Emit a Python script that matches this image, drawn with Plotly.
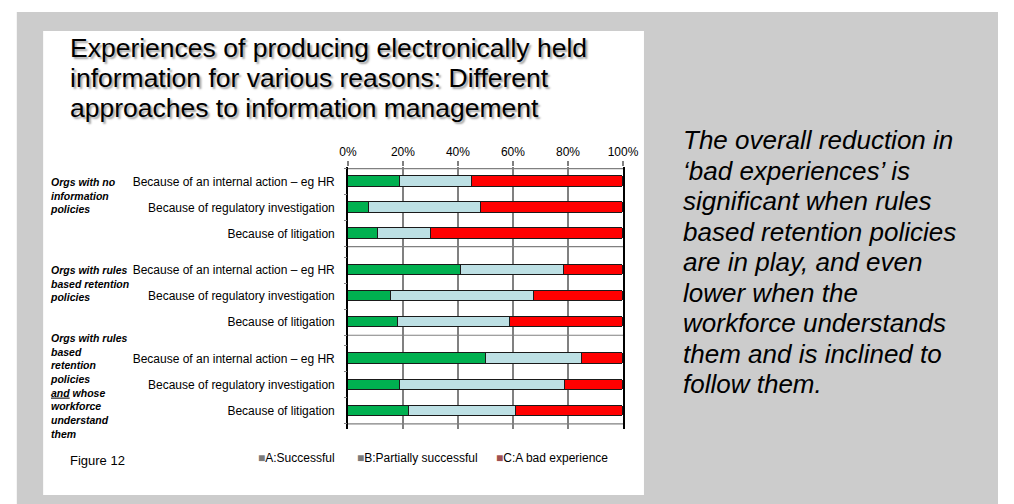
import plotly.graph_objects as go

# ---------------- data ----------------
group_labels = [
    "Orgs with no<br>information<br>policies",
    "Orgs with rules<br>based retention<br>policies",
    "Orgs with rules<br>based<br>retention<br>policies<br><u>and</u> whose<br>workforce<br>understand<br>them",
]
reasons = [
    "Because of an internal action – eg HR",
    "Because of regulatory investigation",
    "Because of litigation",
]
series_names = ["A:Successful", "B:Partially successful", "C:A bad experience"]
successful = [19, 7.5, 11, 41, 15.5, 18, 50, 19, 22]
partially = [26, 41, 19, 37.5, 52, 41, 35, 60, 39]
bad = [55, 51.5, 70, 21.5, 32.5, 41, 15, 21, 39]
x_tick_vals = [0, 20, 40, 60, 80, 100]
x_tick_text = ["0%", "20%", "40%", "60%", "80%", "100%"]
title_lines = [
    "Experiences of producing electronically held",
    "information for various reasons: Different",
    "approaches to information management",
]
side_text = [
    "The overall reduction in",
    "‘bad experiences’ is",
    "significant when rules",
    "based retention policies",
    "are in play, and even",
    "lower when the",
    "workforce understands",
    "them and is inclined to",
    "follow them.",
]
figure_label = "Figure 12"

# ---------------- layout helpers ----------------
W, H = 1014, 504
def px(x):
    return x / W
def py(y):
    return 1 - y / H

def tight_lines(lines, glyph_px):
    # glyphs drawn at glyph_px while line spacing follows the base font
    return "<br>".join("<span style='font-size:%spx'>%s</span>" % (glyph_px, t) for t in lines)

GROUP_STEP = 3.4
n_per_group = len(reasons)
row_pos = [g * GROUP_STEP + i for g in range(len(group_labels)) for i in range(n_per_group)]
row_text = [reasons[i] for g in range(len(group_labels)) for i in range(n_per_group)]
y_range = [9.5, -0.56]

colors = ["#00b050", "#bde0e4", "#ff0000"]
values = [successful, partially, bad]

FONT = "Liberation Sans, Arial, sans-serif"

fig = go.Figure()
for name, vals, col in zip(series_names, values, colors):
    fig.add_trace(go.Bar(
        x=vals, y=row_pos, orientation="h", name=name,
        marker=dict(color=col, line=dict(color="#1a1a1a", width=1), cornerradius=2),
        width=0.4, showlegend=False, hoverinfo="x+name",
    ))

# boundary ticks on the category axis (overlay axis)
bounds = sorted(set([p - 0.5 for p in row_pos] + [p + 0.5 for p in row_pos]))
fig.add_trace(go.Scatter(x=[None], y=[None], yaxis="y2", showlegend=False, hoverinfo="skip"))

x0p, x1p = 347.5, 629.5
y0p, y1p = 167, 429

fig.update_layout(
    width=W, height=H,
    margin=dict(l=0, r=0, t=0, b=0),
    paper_bgcolor="white",
    plot_bgcolor="rgba(0,0,0,0)",
    barmode="stack",
    bargap=0,
    showlegend=False,
    font=dict(family=FONT, size=12, color="black"),
    xaxis=dict(
        domain=[px(x0p), px(x1p)], range=[0, 100], side="top",
        tickvals=x_tick_vals, ticktext=x_tick_text,
        ticks="outside", ticklen=5, tickcolor="#808080", tickwidth=1.5,
        showgrid=True, gridcolor="#808080", gridwidth=1.5,
        showline=False, zeroline=False,
        tickfont=dict(size=12, family=FONT, color="black"),
        fixedrange=True,
    ),
    yaxis=dict(
        domain=[py(y1p), py(y0p)], range=y_range,
        tickvals=row_pos, ticktext=row_text,
        ticks="outside", ticklen=9, tickcolor="rgba(0,0,0,0)",
        showgrid=False, zeroline=False,
        showline=True, linecolor="black", linewidth=1.5, mirror=True,
        tickfont=dict(size=12, family=FONT, color="black"),
        fixedrange=True,
    ),
    yaxis2=dict(
        overlaying="y", range=y_range, side="left",
        tickvals=bounds, ticks="outside", ticklen=3, tickcolor="#808080",
        showticklabels=False, showgrid=False, zeroline=False, showline=False,
        fixedrange=True,
    ),
)

shapes = [
    dict(type="rect", xref="paper", yref="paper", x0=px(8), x1=1, y0=0, y1=py(12),
         fillcolor="#cccccc", line=dict(width=0), layer="below"),
    dict(type="rect", xref="paper", yref="paper", x0=px(35), x1=px(651), y0=py(495), y1=py(31),
         fillcolor="white", line=dict(width=0), layer="below"),
]
# horizontal separators: top of plot and after each group
sep_rows = [row_pos[0] - 0.5] + [row_pos[(g + 1) * n_per_group - 1] + 0.5 for g in range(len(group_labels))]
for yv in sep_rows:
    shapes.append(dict(type="line", xref="x", yref="y", x0=0, x1=100, y0=yv, y1=yv,
                       line=dict(color="#808080", width=1.2), layer="below"))
fig.update_layout(shapes=shapes)

ann = []
# title: tight line spacing (~30px) with ~26.5px glyphs
ann.append(dict(text=tight_lines(title_lines, 26.5), xref="paper", yref="paper", x=px(61), y=py(78),
                xanchor="left", yanchor="middle", align="left", showarrow=False,
                font=dict(size=23, family=FONT, color="black", shadow="2px 2px 2px #a0a0a0")))
# side commentary (line spacing ~30.6px)
ann.append(dict(text=tight_lines(side_text, 26), xref="paper", yref="paper", x=px(689), y=py(262),
                xanchor="left", yanchor="middle", align="left", showarrow=False,
                font=dict(size=23.5, family=FONT, color="black", style="italic")))
# group labels
group_top = [174, 262, 330]
for gl, yy in zip(group_labels, group_top):
    ann.append(dict(text="<b><i>" + gl + "</i></b>", xref="paper", yref="paper", x=px(40), y=py(yy),
                    xanchor="left", yanchor="top", align="left", showarrow=False,
                    font=dict(size=10.5, family=FONT, color="black")))
ann.append(dict(text=figure_label, xref="paper", yref="paper", x=px(61), y=py(460),
                xanchor="left", yanchor="middle", showarrow=False,
                font=dict(size=13, family=FONT, color="black")))
# legend (grey square glyphs as in the reference)
legend_sq = ["#7a7a7a", "#7a7a7a", "#a05050"]
legend_x = [253, 355, 497]
for name, sq, lx in zip(series_names, legend_sq, legend_x):
    ann.append(dict(text="<span style='color:%s'>■</span>%s" % (sq, name),
                    xref="paper", yref="paper", x=px(lx), y=py(458),
                    xanchor="left", yanchor="middle", showarrow=False,
                    font=dict(size=12, family=FONT, color="black")))
fig.update_layout(annotations=ann)

fig.write_html("out.html")
